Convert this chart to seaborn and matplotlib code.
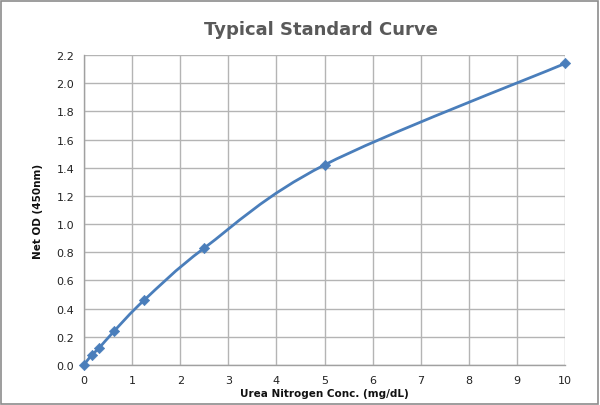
import numpy as np
import pandas as pd
import matplotlib
matplotlib.use("Agg")
import matplotlib.pyplot as plt
from matplotlib.path import Path
from matplotlib.patches import PathPatch, Rectangle
import seaborn as sns

conc = [0, 0.156, 0.3125, 0.625, 1.25, 2.5, 5, 10]
od = [0.0, 0.07, 0.12, 0.24, 0.46, 0.83, 1.42, 2.14]
x_ticks = [0, 1, 2, 3, 4, 5, 6, 7, 8, 9, 10]
y_ticks = [0.0, 0.2, 0.4, 0.6, 0.8, 1.0, 1.2, 1.4, 1.6, 1.8, 2.0, 2.2]

df = pd.DataFrame({"conc": conc, "od": od})

sns.set_style("white")
plt.rcParams['font.family'] = ['DejaVu Sans']

fig = plt.figure(figsize=(6.0, 4.06), dpi=100)
ax = fig.add_axes([0.14, 0.0985, 0.8017, 0.7635])

color = "#4A7EBB"

# smooth line (Bezier through the data points, like a spreadsheet smoothed line)
xs = np.array(conc, dtype=float)
ys = np.array(od, dtype=float)
verts = [(xs[0], ys[0])]
codes = [Path.MOVETO]
n = len(xs)
for i in range(n - 1):
    p0 = np.array([xs[max(i - 1, 0)], ys[max(i - 1, 0)]])
    p1 = np.array([xs[i], ys[i]])
    p2 = np.array([xs[i + 1], ys[i + 1]])
    p3 = np.array([xs[min(i + 2, n - 1)], ys[min(i + 2, n - 1)]])
    c1 = p1 + (p2 - p0) / 6.0
    c2 = p2 - (p3 - p1) / 6.0
    verts += [tuple(c1), tuple(c2), tuple(p2)]
    codes += [Path.CURVE4, Path.CURVE4, Path.CURVE4]
ax.add_patch(PathPatch(Path(verts, codes), facecolor="none", edgecolor=color,
                       lw=2.0, zorder=3, clip_on=False))

sns.scatterplot(data=df, x="conc", y="od", ax=ax, marker="D", s=28,
                color=color, edgecolor=color, zorder=4, clip_on=False, legend=False)

ax.set_xlim(0, 10)
ax.set_ylim(0, 2.2)
ax.set_xticks(x_ticks)
ax.set_yticks(y_ticks)
ax.set_xticklabels([str(t) for t in x_ticks])
ax.set_yticklabels([f"{t:.1f}" for t in y_ticks])
ax.grid(True, color="#b4b4b4", lw=1.0)
ax.set_axisbelow(True)
for s in ["top", "right"]:
    ax.spines[s].set_visible(False)
for s in ["left", "bottom"]:
    ax.spines[s].set_color("#a0a0a0")
    ax.spines[s].set_linewidth(1.0)
ax.tick_params(axis="both", which="both", length=4, width=1.0, color="#a0a0a0",
               labelsize=8, labelcolor="#222222", direction="out", pad=3)

ax.set_xlabel("Urea Nitrogen Conc. (mg/dL)", fontsize=7.5, fontweight="bold",
              color="#111111", labelpad=2)
ax.set_ylabel("Net OD (450nm)", fontsize=7.5, fontweight="bold",
              color="#111111", labelpad=10)
fig.text(0.535, 0.925, "Typical Standard Curve", ha="center", va="center",
         fontsize=13, fontweight="bold", color="#595959")

fig.patches.append(Rectangle((0.002, 0.003), 0.995, 0.993, transform=fig.transFigure,
                             fill=False, edgecolor="#8c8c8c", lw=1.2))

fig.savefig("out.png", dpi=100, facecolor="white")
